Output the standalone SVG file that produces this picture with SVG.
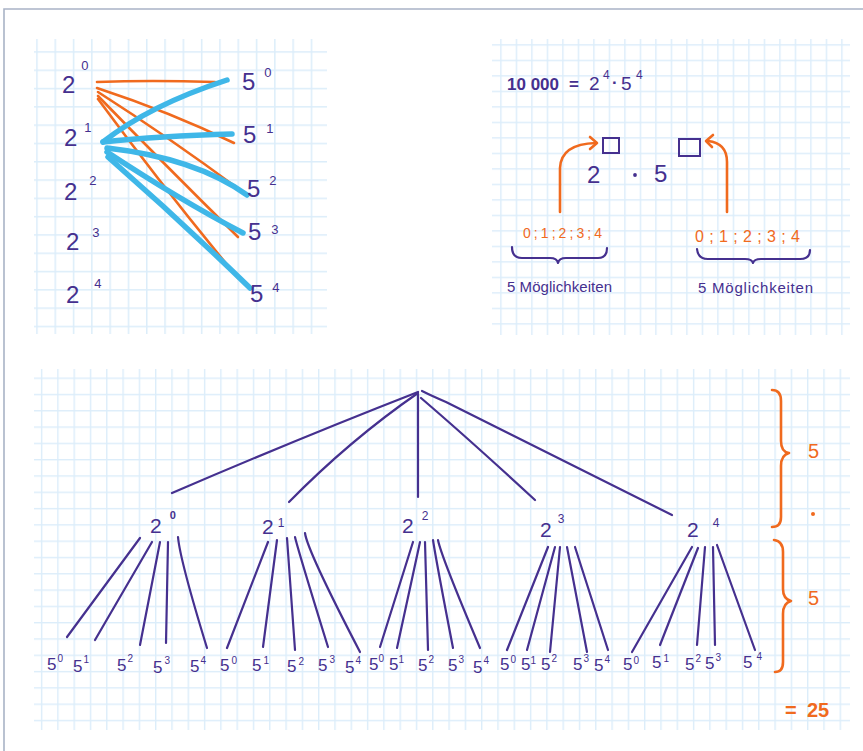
<svg xmlns="http://www.w3.org/2000/svg" width="863" height="751" viewBox="0 0 863 751">
<style>
.p{fill:#45308f;font-family:"Liberation Sans","DejaVu Sans",sans-serif}
.o{fill:#f06a1e;font-family:"Liberation Sans","DejaVu Sans",sans-serif}
.pe{fill:none;stroke:#45308f;stroke-width:2.2;stroke-linecap:round;stroke-linejoin:round}
.oe{fill:none;stroke:#f06a1e;stroke-width:2.6;stroke-linecap:round;stroke-linejoin:round}
.be{fill:none;stroke:#3fb7e8;stroke-width:5.5;stroke-linecap:round;stroke-linejoin:round}
.gl{fill:#dcedfa}
</style>
<defs>
<pattern id="g1" patternUnits="userSpaceOnUse" x="36.2" y="51.2" width="18.3" height="18.3"><rect class="gl" x="0" y="0" width="1.5" height="18.3"/><rect class="gl" x="0" y="0" width="18.3" height="1.5"/></pattern>
<pattern id="g2" patternUnits="userSpaceOnUse" x="748.2" y="44.2" width="15.5" height="15.5"><rect class="gl" x="0" y="0" width="1.4" height="15.5"/><rect class="gl" x="0" y="0" width="15.5" height="1.4"/></pattern>
<pattern id="g3" patternUnits="userSpaceOnUse" x="40.9" y="524.2" width="16.3" height="16.3"><rect class="gl" x="0" y="0" width="1.4" height="16.3"/><rect class="gl" x="0" y="0" width="16.3" height="1.4"/></pattern>
</defs>
<rect x="0" y="0" width="863" height="751" fill="#ffffff"/>
<path d="M4,751 L4,9 L863,9" fill="none" stroke="#a9b3c6" stroke-width="1.6"/>

<g id="paper">
<rect x="34" y="39" width="293" height="295" fill="url(#g1)"/>
<rect x="492" y="39" width="358" height="296" fill="url(#g2)"/>
<rect x="34" y="369" width="816" height="361" fill="url(#g3)"/>
</g>

<!-- Panel 1: pairing of powers -->
<g id="connectors-pairs">
<path class="oe" d="M97,82 Q150,80 215,82"/>
<path class="oe" d="M97,88 Q170,112 234,143"/>
<path class="oe" d="M98,92 Q170,138 240,190"/>
<path class="oe" d="M98,96 Q165,165 238,237"/>
<path class="oe" d="M98,99 Q165,190 238,278"/>
<path class="be" d="M103,142 Q150,105 227,80"/>
<path class="be" d="M103,142 Q160,136 232,134"/>
<path class="be" d="M107,148 Q195,158 247,195"/>
<path class="be" d="M107,152 Q180,200 243,233"/>
<path class="be" d="M108,157 Q180,220 250,288" stroke-width="4"/>
</g>
<g id="node-2-0"><text class="p" x="62" y="93" font-size="24">2<tspan dx="6" dy="-23" font-size="13">0</tspan></text></g>
<g id="node-2-1"><text class="p" x="64" y="146" font-size="24">2<tspan dx="7" dy="-14" font-size="13">1</tspan></text></g>
<g id="node-2-2"><text class="p" x="64" y="200" font-size="24">2<tspan dx="12" dy="-15" font-size="13">2</tspan></text></g>
<g id="node-2-3"><text class="p" x="66" y="250" font-size="24">2<tspan dx="13" dy="-13" font-size="13">3</tspan></text></g>
<g id="node-2-4"><text class="p" x="66" y="303" font-size="24">2<tspan dx="15" dy="-15" font-size="13">4</tspan></text></g>
<g id="node-5-0"><text class="p" x="242" y="90" font-size="24">5<tspan dx="9" dy="-13" font-size="13">0</tspan></text></g>
<g id="node-5-1"><text class="p" x="243" y="143" font-size="24">5<tspan dx="10" dy="-10" font-size="13">1</tspan></text></g>
<g id="node-5-2"><text class="p" x="247" y="197" font-size="24">5<tspan dx="9" dy="-12" font-size="13">2</tspan></text></g>
<g id="node-5-3"><text class="p" x="248" y="240" font-size="24">5<tspan dx="10" dy="-6" font-size="13">3</tspan></text></g>
<g id="node-5-4"><text class="p" x="250" y="302" font-size="24">5<tspan dx="9" dy="-10" font-size="13">4</tspan></text></g>

<!-- Panel 2: factorisation -->
<g id="equation">
<text class="p" y="90" font-size="17" font-weight="bold"><tspan x="507">10 000</tspan><tspan x="569">=</tspan><tspan x="589" font-weight="normal" font-size="19">2</tspan><tspan x="603" y="79" font-size="12" font-weight="normal">4</tspan><tspan x="612" y="88">·</tspan><tspan x="621" y="90" font-weight="normal" font-size="19">5</tspan><tspan x="636" y="79" font-size="12" font-weight="normal">4</tspan></text>
</g>
<g id="term">
<rect x="603" y="138" width="16" height="15" fill="none" stroke="#45308f" stroke-width="2"/>
<rect x="679" y="139" width="21" height="17" fill="none" stroke="#45308f" stroke-width="2"/>
<text class="p" x="587" y="183" font-size="24">2</text>
<circle cx="635" cy="175" r="1.9" fill="#45308f"/>
<text class="p" x="654" y="182" font-size="24">5</text>
</g>
<g id="connectors-exponents">
<path class="oe" d="M560,212 L560,168 Q561,144 596,143"/>
<path class="oe" d="M590,137 L597,143 L590,149"/>
<path class="oe" d="M727,212 L727,162 Q727,143 708,141"/>
<path class="oe" d="M713,135 L706,141 L712,147"/>
</g>
<g id="choices-left">
<text class="o" x="523" y="238" font-size="14" textLength="79" lengthAdjust="spacing">0;1;2;3;4</text>
<path class="pe" d="M512,247 Q512,258 522,258 L550,258 Q557,258 558,263 Q559,258 566,258 L598,258 Q607,258 607,248"/>
<text class="p" x="507" y="292" font-size="15" textLength="105" lengthAdjust="spacing">5 Möglichkeiten</text>
</g>
<g id="choices-right">
<text class="o" x="695" y="242" font-size="16" textLength="105" lengthAdjust="spacing">0;1;2;3;4</text>
<path class="pe" d="M697,249 Q698,259 708,259 L745,259 Q752,259 753,263 Q754,259 761,259 L800,259 Q810,259 810,250"/>
<text class="p" x="698" y="293" font-size="15" textLength="115" lengthAdjust="spacing">5 Möglichkeiten</text>
</g>

<!-- Panel 3: tree -->
<g id="connectors-tree">
<path class="pe" d="M418,392 Q300,438 172,493"/>
<path class="pe" d="M418,393 Q350,440 289,502"/>
<path class="pe" d="M418,394 L418,497"/>
<path class="pe" d="M421,398 Q470,440 535,500"/>
<path class="pe" d="M422,391 Q432,396 446,402 L672,515"/>

<path class="pe" d="M140,538 L67,637"/>
<path class="pe" d="M152,542 L95,640"/>
<path class="pe" d="M160,542 L140,645"/>
<path class="pe" d="M168,542 L166,643"/>
<path class="pe" d="M178,537 Q180,560 207,648"/>

<path class="pe" d="M268,542 L227,648"/>
<path class="pe" d="M277,540 L263,647"/>
<path class="pe" d="M287,538 L295,650"/>
<path class="pe" d="M295,537 Q298,550 328,647"/>
<path class="pe" d="M305,533 Q307,550 360,652"/>

<path class="pe" d="M413,542 L380,647"/>
<path class="pe" d="M420,542 L397,648"/>
<path class="pe" d="M425,542 L428,650"/>
<path class="pe" d="M433,540 Q436,560 453,648"/>
<path class="pe" d="M438,540 Q441,556 480,648"/>

<path class="pe" d="M548,547 L507,650"/>
<path class="pe" d="M555,547 L527,650"/>
<path class="pe" d="M560,547 L550,652"/>
<path class="pe" d="M567,547 L587,652"/>
<path class="pe" d="M575,547 L608,650"/>

<path class="pe" d="M692,547 L632,652" stroke-width="3"/>
<path class="pe" d="M698,548 L660,645"/>
<path class="pe" d="M705,547 L697,645"/>
<path class="pe" d="M713,547 L715,645"/>
<path class="pe" d="M717,545 L755,650"/>
</g>
<g id="tree-2-0"><text class="p" x="150" y="533" font-size="21">2<tspan dx="8" dy="-14" font-size="11" font-weight="bold">0</tspan></text></g>
<g id="tree-2-1"><text class="p" x="262" y="534" font-size="21">2<tspan dx="4" dy="-7" font-size="12">1</tspan></text></g>
<g id="tree-2-2"><text class="p" x="402" y="533" font-size="21">2<tspan dx="8" dy="-13" font-size="12">2</tspan></text></g>
<g id="tree-2-3"><text class="p" x="540" y="537" font-size="21">2<tspan dx="6" dy="-14" font-size="12">3</tspan></text></g>
<g id="tree-2-4"><text class="p" x="687" y="537" font-size="21">2<tspan dx="14" dy="-10" font-size="12">4</tspan></text></g>

<g id="leaves" font-size="17">
<text class="p" x="47" y="670">5<tspan dx="1" dy="-8" font-size="10">0</tspan></text>
<text class="p" x="73" y="672">5<tspan dx="1" dy="-9" font-size="10">1</tspan></text>
<text class="p" x="117" y="671">5<tspan dx="1" dy="-9" font-size="10">2</tspan></text>
<text class="p" x="153" y="673">5<tspan dx="2" dy="-9" font-size="10">3</tspan></text>
<text class="p" x="190" y="672">5<tspan dx="1" dy="-8" font-size="10">4</tspan></text>

<text class="p" x="220" y="671">5<tspan dx="2" dy="-7" font-size="10">0</tspan></text>
<text class="p" x="252" y="671">5<tspan dx="2" dy="-7" font-size="10">1</tspan></text>
<text class="p" x="287" y="672">5<tspan dx="2" dy="-7" font-size="10">2</tspan></text>
<text class="p" x="318" y="671">5<tspan dx="2" dy="-8" font-size="10">3</tspan></text>
<text class="p" x="345" y="673">5<tspan dx="1" dy="-9" font-size="10">4</tspan></text>

<text class="p" x="369" y="670">5<tspan dx="0" dy="-8" font-size="10">0</tspan></text>
<text class="p" x="389" y="670">5<tspan dx="0" dy="-7" font-size="10">1</tspan></text>
<text class="p" x="418" y="671">5<tspan dx="1" dy="-8" font-size="10">2</tspan></text>
<text class="p" x="448" y="671">5<tspan dx="1" dy="-8" font-size="10">3</tspan></text>
<text class="p" x="473" y="673">5<tspan dx="1" dy="-9" font-size="10">4</tspan></text>

<text class="p" x="500" y="670">5<tspan dx="1" dy="-7" font-size="10">0</tspan></text>
<text class="p" x="521" y="670">5<tspan dx="0" dy="-6" font-size="10">1</tspan></text>
<text class="p" x="541" y="670">5<tspan dx="1" dy="-8" font-size="10">2</tspan></text>
<text class="p" x="573" y="670">5<tspan dx="1" dy="-8" font-size="10">3</tspan></text>
<text class="p" x="594" y="671">5<tspan dx="1" dy="-8" font-size="10">4</tspan></text>

<text class="p" x="623" y="670">5<tspan dx="1" dy="-6" font-size="10">0</tspan></text>
<text class="p" x="652" y="668">5<tspan dx="2" dy="-6" font-size="10">1</tspan></text>
<text class="p" x="685" y="670">5<tspan dx="1" dy="-8" font-size="10">2</tspan></text>
<text class="p" x="705" y="669">5<tspan dx="1" dy="-8" font-size="10">3</tspan></text>
<text class="p" x="743" y="668">5<tspan dx="4" dy="-8" font-size="10">4</tspan></text>
</g>

<g id="count">
<path class="oe" d="M772,390 Q781,390 781,401 L781,441 Q781,452 789,453 Q781,455 781,466 L781,517 Q781,527 772,527"/>
<text class="o" x="808" y="458" font-size="20">5</text>
<circle cx="813" cy="514" r="2" fill="#f06a1e"/>
<path class="oe" d="M774,540 Q783,541 783,552 L783,589 Q783,599 791,601 Q783,603 783,614 L783,662 Q783,672 775,672"/>
<text class="o" x="808" y="605" font-size="20">5</text>
<text class="o" y="717" font-size="20" font-weight="bold"><tspan x="785">=</tspan><tspan x="807">25</tspan></text>
</g>
</svg>
